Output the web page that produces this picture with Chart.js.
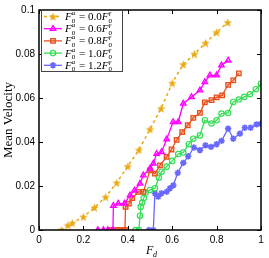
<!DOCTYPE html>
<html>
<head>
<meta charset="utf-8">
<script src="https://cdn.jsdelivr.net/npm/chart.js@4"></script>
<style>
html, body { margin: 0; padding: 0; background: #fff; }
</style>
</head>
<body>
<canvas id="chart" width="269" height="258"></canvas>
<script>
// Tick labels
const xTicks = [0, 0.2, 0.4, 0.6, 0.8, 1];
const yTicks = [0, 0.02, 0.04, 0.06, 0.08, 0.1];

// Series labels (value of F0a in units of F0γ)
const labels = ['0.0', '0.6', '0.8', '1.0', '1.2'];

// F0a = 0.0 F0γ
const fd00 = [0.1, 0.13, 0.15, 0.2, 0.25, 0.3, 0.35, 0.4, 0.45, 0.5, 0.55, 0.6, 0.65, 0.7, 0.75, 0.8, 0.85];
const v00 = [0, 0.0022, 0.0032, 0.006, 0.0102, 0.015, 0.0215, 0.029, 0.0364, 0.0458, 0.0552, 0.0668, 0.0753, 0.08, 0.085, 0.0899, 0.0944];

// F0a = 0.6 F0γ
const fd06 = [0.265, 0.29, 0.31, 0.333, 0.335, 0.357, 0.385, 0.41, 0.43, 0.455, 0.47, 0.5, 0.515, 0.53, 0.552, 0.575, 0.604, 0.627, 0.65, 0.687, 0.725, 0.747, 0.77, 0.8, 0.822, 0.852];
const v06 = [0, 0, 0, 0, 0.011, 0.012, 0.012, 0.0158, 0.018, 0.0211, 0.0249, 0.0279, 0.0302, 0.0347, 0.0355, 0.0412, 0.0491, 0.0491, 0.0575, 0.0605, 0.0635, 0.0673, 0.0703, 0.0703, 0.0749, 0.0771];

// F0a = 0.8 F0γ
const fd08 = [0.32, 0.335, 0.35, 0.365, 0.38, 0.387, 0.39, 0.405, 0.42, 0.447, 0.47, 0.5, 0.522, 0.545, 0.575, 0.597, 0.62, 0.645, 0.67, 0.695, 0.725, 0.747, 0.777, 0.8, 0.825, 0.852, 0.875, 0.9];
const v08 = [0, 0, 0, 0, 0, 0, 0.0105, 0.012, 0.0145, 0.0173, 0.0173, 0.0271, 0.0256, 0.0294, 0.0332, 0.0366, 0.041, 0.0445, 0.0476, 0.051, 0.0532, 0.058, 0.059, 0.0603, 0.0612, 0.066, 0.068, 0.0712];

// F0a = 1.0 F0γ
const fd10 = [0.435, 0.45, 0.455, 0.458, 0.465, 0.472, 0.48, 0.5, 0.522, 0.54, 0.552, 0.575, 0.6, 0.627, 0.65, 0.675, 0.695, 0.725, 0.747, 0.777, 0.8, 0.822, 0.852, 0.875, 0.9, 0.925, 0.95, 0.977, 1.0];
const v10 = [0, 0, 0.0065, 0.0105, 0.0125, 0.0145, 0.017, 0.0182, 0.019, 0.0238, 0.0265, 0.0288, 0.0314, 0.0345, 0.0352, 0.039, 0.0415, 0.043, 0.0499, 0.0484, 0.0499, 0.0529, 0.0532, 0.0582, 0.0593, 0.0605, 0.0617, 0.064, 0.0665];

// F0a = 1.2 F0γ
const fd12 = [0.495, 0.515, 0.522, 0.537, 0.552, 0.575, 0.59, 0.605, 0.625, 0.65, 0.672, 0.698, 0.725, 0.75, 0.775, 0.8, 0.822, 0.852, 0.875, 0.905, 0.927, 0.953, 0.98, 1.0];
const v12 = [0, 0, 0.0167, 0.0152, 0.0167, 0.0174, 0.019, 0.0203, 0.026, 0.0305, 0.0335, 0.0375, 0.0363, 0.0385, 0.0378, 0.039, 0.0405, 0.0461, 0.0415, 0.0438, 0.0465, 0.0465, 0.048, 0.0483];

const zip = (xs, ys) => xs.map((x, i) => ({ x: x, y: ys[i] }));

// filled five-pointed star for the 0.0 series
function makeStar(size, color) {
    const c = document.createElement('canvas');
    c.width = size;
    c.height = size;
    const g = c.getContext('2d');
    const cx = size / 2, cy = size / 2 + 0.5, R = size / 2, r = R * 0.42;
    g.beginPath();
    for (let i = 0; i < 10; i++) {
        const rad = i % 2 === 0 ? R : r;
        const a = -Math.PI / 2 + i * Math.PI / 5;
        g.lineTo(cx + rad * Math.cos(a), cy + rad * Math.sin(a));
    }
    g.closePath();
    g.fillStyle = color;
    g.fill();
    return c;
}

const gold = '#e8a912';
const magenta = '#ff00ff';
const orange = '#e8501c';
const green = '#35dd55';
const blue = '#6868ff';
const starImg = makeStar(9, gold);

const datasets = [
    { data: zip(fd00, v00), borderColor: gold, backgroundColor: gold, borderDash: [3, 3], borderWidth: 1.5,
      pointStyle: starImg, pointRadius: 4.5 },
    { data: zip(fd06, v06), borderColor: magenta, backgroundColor: 'rgba(255,0,255,0.3)', borderWidth: 1.3,
      pointStyle: 'triangle', pointRadius: 3.2, pointBorderWidth: 1.3 },
    { data: zip(fd08, v08), borderColor: orange, backgroundColor: 'rgba(232,80,28,0.3)', borderWidth: 1.3,
      pointStyle: 'rect', pointRadius: 3.2, pointBorderWidth: 1.3 },
    { data: zip(fd10, v10), borderColor: green, backgroundColor: 'rgba(255,255,255,0)', borderWidth: 1.3,
      pointStyle: 'circle', pointRadius: 2.7, pointBorderWidth: 1.2 },
    { data: zip(fd12, v12), borderColor: blue, backgroundColor: blue, borderWidth: 1.3,
      pointStyle: 'star', pointRadius: 3.2, pointBorderWidth: 1.6 }
];
datasets.forEach(d => {
    d.showLine = true;
    d.fill = false;
    d.tension = 0;
    d.pointBackgroundColor = d.backgroundColor;
    d.pointBorderColor = d.borderColor;
});

const serif = '"Liberation Serif", "DejaVu Serif", serif';

// frame, inward ticks, axis titles and legend
const decor = {
    id: 'decor',
    afterDraw(chart) {
        const ctx = chart.ctx;
        const a = chart.chartArea;
        const xs = chart.scales.x, ys = chart.scales.y;
        ctx.save();
        ctx.strokeStyle = '#000';
        ctx.lineWidth = 1.5;
        ctx.strokeRect(a.left, a.top, a.right - a.left, a.bottom - a.top);
        ctx.lineWidth = 1;
        ctx.beginPath();
        xTicks.forEach(v => {
            const p = Math.round(xs.getPixelForValue(v)) + 0.5;
            ctx.moveTo(p, a.bottom); ctx.lineTo(p, a.bottom - 4);
            ctx.moveTo(p, a.top); ctx.lineTo(p, a.top + 4);
        });
        yTicks.forEach(v => {
            const p = Math.round(ys.getPixelForValue(v)) + 0.5;
            ctx.moveTo(a.left, p); ctx.lineTo(a.left + 4, p);
            ctx.moveTo(a.right, p); ctx.lineTo(a.right - 4, p);
        });
        ctx.stroke();

        // axis titles
        ctx.fillStyle = '#000';
        ctx.textBaseline = 'alphabetic';
        ctx.font = 'italic 12px ' + serif;
        const cx = (a.left + a.right) / 2 - 4;
        ctx.fillText('F', cx, 254);
        ctx.font = 'italic 8px ' + serif;
        ctx.fillText('d', cx + 7, 257);

        ctx.save();
        ctx.translate(12, (a.top + a.bottom) / 2);
        ctx.rotate(-Math.PI / 2);
        ctx.font = '13px ' + serif;
        ctx.textAlign = 'center';
        ctx.fillText('Mean Velocity', 0, 0);
        ctx.restore();

        // legend
        const lx = 41.5, ly = 10.5, lw = 81, lh = 61;
        ctx.fillStyle = '#fff';
        ctx.fillRect(lx, ly, lw, lh);
        ctx.strokeStyle = '#444';
        ctx.lineWidth = 1;
        ctx.strokeRect(lx, ly, lw, lh);
        chart.data.datasets.forEach((d, i) => {
            const y = 16.5 + i * 12.2;
            ctx.save();
            ctx.strokeStyle = d.borderColor;
            ctx.lineWidth = d.borderWidth;
            ctx.setLineDash(d.borderDash || []);
            ctx.beginPath();
            ctx.moveTo(44, y); ctx.lineTo(62, y);
            ctx.stroke();
            ctx.setLineDash([]);
            ctx.fillStyle = d.pointBackgroundColor;
            ctx.strokeStyle = d.pointBorderColor;
            ctx.lineWidth = d.pointBorderWidth || 1;
            Chart.helpers.drawPoint(ctx, { pointStyle: d.pointStyle, radius: d.pointRadius, rotation: 0, borderWidth: ctx.lineWidth }, 53, y);
            ctx.restore();

            ctx.fillStyle = '#000';
            let x = 65;
            const base = y + 3.5;
            ctx.font = 'italic 11px ' + serif;
            ctx.fillText('F', x, base);
            x += ctx.measureText('F').width;
            ctx.font = '7px ' + serif;
            ctx.fillText('0', x, base + 2.5);
            ctx.font = 'italic 7px ' + serif;
            ctx.fillText('a', x, base - 5);
            x += 4.5;
            ctx.font = '11px ' + serif;
            const mid = ' = ' + labels[i];
            ctx.fillText(mid, x, base);
            x += ctx.measureText(mid).width;
            ctx.font = 'italic 11px ' + serif;
            ctx.fillText('F', x, base);
            x += ctx.measureText('F').width;
            ctx.font = '7px ' + serif;
            ctx.fillText('0', x, base + 2.5);
            ctx.font = 'italic 7px ' + serif;
            ctx.fillText('\u03b3', x, base - 5);
        });
        ctx.restore();
    }
};

new Chart(document.getElementById('chart').getContext('2d'), {
    type: 'scatter',
    data: { datasets: datasets },
    options: {
        responsive: false,
        animation: false,
        layout: { padding: { top: 10, right: 8, left: 0, bottom: 0 } },
        plugins: { legend: { display: false }, tooltip: { enabled: false } },
        scales: {
            x: {
                type: 'linear', min: 0, max: 1,
                grid: { display: false, drawTicks: false },
                border: { display: false },
                afterBuildTicks: s => { s.ticks = xTicks.map(v => ({ value: v })); },
                afterFit: s => { s.height = 28; },
                ticks: {
                    padding: 4, maxRotation: 0, autoSkip: false, color: '#000',
                    font: { family: '"Liberation Sans", Arial, sans-serif', size: 10 },
                    callback: v => String(v)
                }
            },
            y: {
                type: 'linear', min: 0, max: 0.1,
                grid: { display: false, drawTicks: false },
                border: { display: false },
                afterBuildTicks: s => { s.ticks = yTicks.map(v => ({ value: v })); },
                afterFit: s => { s.width = 39; },
                ticks: {
                    padding: 4, autoSkip: false, color: '#000',
                    font: { family: '"Liberation Sans", Arial, sans-serif', size: 10 },
                    callback: v => String(v)
                }
            }
        }
    },
    plugins: [decor]
});
</script>
</body>
</html>
